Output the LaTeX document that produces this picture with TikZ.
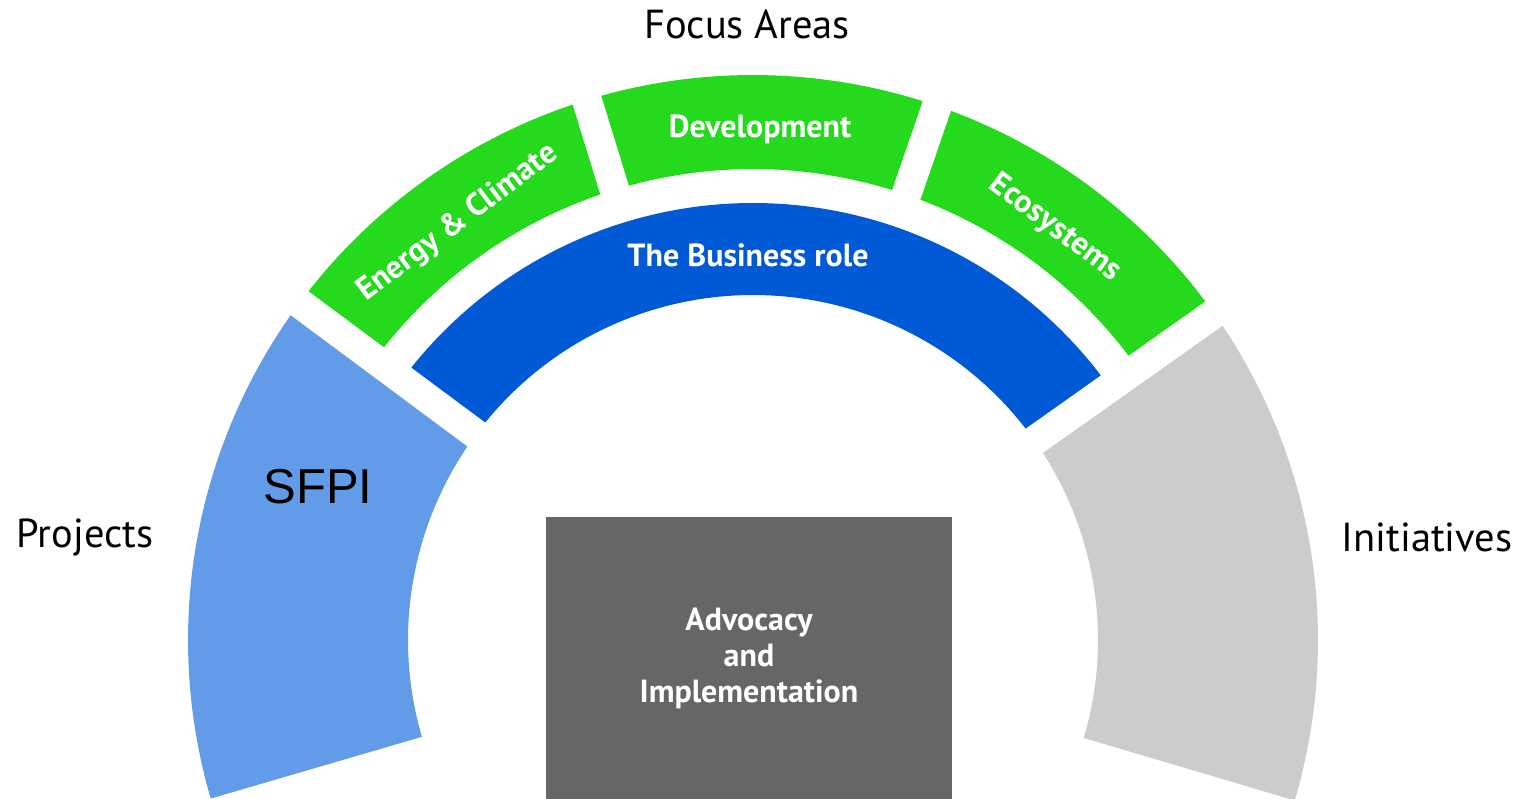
\documentclass[tikz,border=0pt]{standalone}
\usepackage{fontspec}
\newfontfamily\labfont{PT Sans}
\newfontfamily\arialfont{Liberation Sans}
\definecolor{fagreen}{HTML}{25D91D}
\definecolor{roleblue}{HTML}{005AD6}
\definecolor{projblue}{HTML}{629CE8}
\definecolor{initgray}{HTML}{CCCCCC}
\definecolor{boxgray}{HTML}{666666}
% #1 start gap angle, #2 half gap at start, #3 end gap angle, #4 half gap at end,
% #5 inner radius, #6 outer radius, #7 fill colour
\newcommand\ringseg[7]{%
  \pgfmathsetmacro\rsA{#1+asin(#2/#6)}%
  \pgfmathsetmacro\rsB{#3-asin(#4/#6)}%
  \pgfmathsetmacro\rsC{#1+asin(#2/#5)}%
  \pgfmathsetmacro\rsD{#3-asin(#4/#5)}%
  \fill[#7] (\rsA:#6) arc[start angle=\rsA, end angle=\rsB, radius=#6]
     -- (\rsD:#5) arc[start angle=\rsD, end angle=\rsC, radius=#5] -- cycle;
}
\begin{document}
\begin{tikzpicture}[x=1pt,y=1pt,
  outerlabel/.style={font=\labfont\fontsize{40.5}{46}\selectfont, text=black, anchor=base},
  whitelabel/.style={font=\labfont\bfseries\fontsize{32}{36}\selectfont, text=white}]
\useasboundingbox (0,0) rectangle (1522,-799);
\begin{scope}[shift={(753,-640)}]
  % side segments
  \ringseg{143.4}{15}{196.3}{0}{345}{565}{projblue}
  \ringseg{-16.5}{0}{35.3}{15}{345}{565}{initgray}
  % business role
  \ringseg{35.3}{15}{143.4}{15}{345}{437}{roleblue}
  % focus areas
  \ringseg{107.1}{15}{143.4}{15}{471}{565}{fagreen}
  \ringseg{71.0}{15}{107.1}{15}{471}{565}{fagreen}
  \ringseg{35.3}{15}{71.0}{15}{471}{565}{fagreen}
\end{scope}
\node[fill=boxgray, minimum width=406pt, minimum height=282pt, inner sep=0pt,
      align=center, whitelabel] (adv) at (749,-658) {Advocacy\\and\\Implementation};
\node[outerlabel] (focus) at (747,-39) {Focus Areas};
\node[outerlabel] (proj) at (85,-547) {Projects};
\node[outerlabel] (init) at (1427,-551) {Initiatives};
\node[font=\arialfont\fontsize{49}{56}\selectfont, anchor=base] (sfpi) at (318,-503) {SFPI};
\node[whitelabel, anchor=base] (dev) at (760,-138) {Development};
\node[whitelabel, anchor=base] (role) at (748,-267) {The Business role};
\node[whitelabel, rotate=37] (energy) at (458,-223) {Energy \& Climate};
\node[whitelabel, rotate=-37] (eco) at (1055,-228) {Ecosystems};
\end{tikzpicture}
\end{document}
